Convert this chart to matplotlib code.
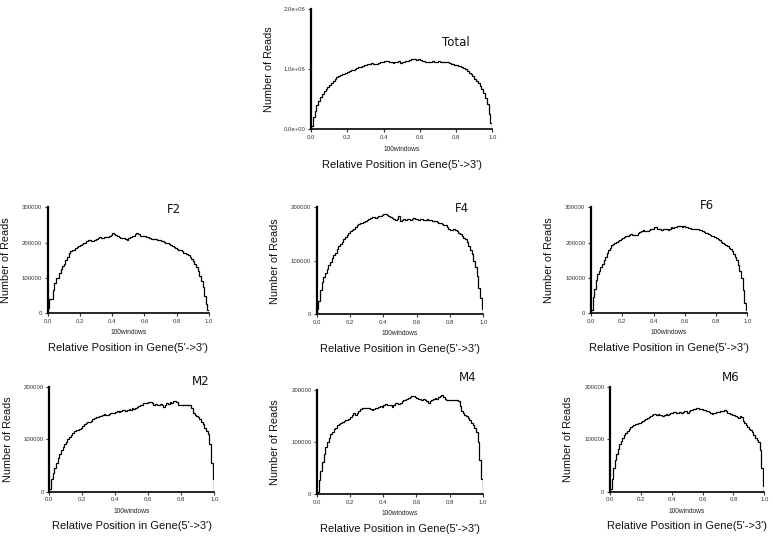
"""Gene body coverage: total and per-sample read distribution over 100 windows."""

import matplotlib

matplotlib.use("Agg")
import matplotlib.pyplot as plt
import numpy as np

# read counts per window (thousands of reads), 100 windows 5' -> 3'
total_k = [
    50, 200, 300, 400, 470, 530, 580, 630, 670, 700,
    730, 760, 800, 830, 860, 880, 900, 910, 920, 930,
    950, 970, 980, 990, 1000, 1020, 1030, 1040, 1050, 1060,
    1070, 1080, 1090, 1100, 1090, 1080, 1090, 1100, 1110, 1120,
    1130, 1140, 1130, 1120, 1120, 1100, 1110, 1120, 1130, 1100,
    1110, 1120, 1130, 1140, 1150, 1160, 1170, 1160, 1150, 1160,
    1150, 1140, 1130, 1120, 1120, 1110, 1120, 1130, 1120, 1120,
    1130, 1120, 1120, 1110, 1120, 1110, 1100, 1090, 1080, 1070,
    1060, 1050, 1050, 1040, 1020, 1000, 970, 940, 910, 880,
    840, 800, 760, 710, 660, 600, 520, 420, 250, 100,
]
f2_k = [
    15, 40, 40, 65, 85, 100, 100, 115, 125, 135,
    140, 150, 160, 170, 175, 178, 180, 185, 188, 190,
    192, 195, 198, 200, 205, 208, 207, 205, 205, 207,
    210, 213, 215, 213, 212, 215, 217, 216, 220, 222,
    226, 224, 222, 218, 215, 214, 212, 213, 210, 207,
    212, 216, 218, 220, 225, 228, 224, 220, 218, 220,
    218, 216, 215, 212, 210, 211, 210, 210, 208, 207,
    206, 205, 203, 200, 198, 196, 192, 190, 188, 184,
    182, 180, 178, 175, 172, 170, 168, 165, 160, 155,
    148, 140, 130, 120, 105, 90, 75, 50, 25, 10,
]
f4_k = [
    10, 25, 45, 60, 70, 78, 85, 92, 98, 105,
    110, 115, 122, 128, 132, 135, 140, 145, 148, 152,
    155, 158, 160, 163, 166, 168, 170, 170, 172, 174,
    176, 178, 180, 182, 181, 180, 182, 184, 183, 185,
    188, 187, 185, 183, 182, 180, 178, 176, 178, 184,
    175, 177, 178, 176, 178, 179, 177, 178, 180, 178,
    178, 177, 179, 178, 177, 177, 178, 177, 176, 175,
    175, 174, 172, 171, 170, 168, 167, 166, 163, 160,
    157, 158, 160, 158, 155, 152, 150, 147, 143, 140,
    135, 128, 120, 112, 100, 88, 72, 50, 30, 10,
]
f6_k = [
    10, 45, 70, 95, 110, 120, 130, 140, 150, 160,
    170, 178, 185, 192, 197, 200, 203, 205, 208, 210,
    213, 215, 218, 220, 222, 224, 222, 222, 221, 223,
    226, 230, 233, 236, 234, 232, 234, 236, 238, 240,
    245, 244, 240, 238, 240, 236, 238, 240, 238, 236,
    240, 243, 242, 244, 245, 247, 248, 246, 244, 246,
    245, 243, 242, 241, 240, 240, 239, 238, 238, 237,
    236, 233, 230, 228, 226, 224, 222, 220, 218, 215,
    212, 210, 207, 203, 200, 197, 194, 190, 186, 182,
    175, 168, 160, 150, 138, 120, 100, 65, 30, 10,
]
m2_k = [
    5, 25, 35, 45, 55, 65, 72, 80, 85, 90,
    95, 100, 104, 108, 112, 115, 117, 118, 120, 122,
    125, 128, 130, 133, 132, 135, 138, 140, 142, 143,
    144, 145, 146, 148, 147, 146, 148, 150, 149, 150,
    152, 153, 152, 154, 155, 155, 154, 156, 158, 155,
    160, 158, 160, 162, 163, 165, 166, 168, 168, 169,
    170, 171, 168, 166, 167, 166, 165, 167, 165, 162,
    166, 168, 167, 170, 168, 172, 173, 170, 166, 165,
    166, 165, 166, 166, 166, 166, 160, 150, 147, 145,
    142, 138, 133, 128, 122, 116, 110, 90, 55, 25,
]
m4_k = [
    5, 28, 45, 62, 78, 90, 100, 108, 115, 120,
    125, 128, 132, 135, 137, 138, 140, 142, 143, 145,
    148, 152, 155, 153, 155, 160, 163, 165, 165, 166,
    165, 166, 164, 162, 164, 166, 166, 168, 170, 168,
    172, 173, 172, 171, 172, 168, 172, 175, 176, 174,
    176, 178, 180, 181, 183, 185, 186, 188, 189, 187,
    184, 183, 182, 180, 182, 180, 178, 176, 178, 180,
    182, 184, 183, 186, 188, 190, 186, 182, 180, 180,
    180, 181, 180, 180, 181, 178, 170, 160, 155, 152,
    150, 146, 142, 136, 132, 128, 120, 100, 65, 30,
]
m6_k = [
    5, 25, 45, 60, 72, 82, 90, 97, 103, 108,
    112, 116, 120, 124, 126, 127, 128, 129, 130, 131,
    133, 135, 137, 138, 140, 143, 145, 147, 148, 148,
    147, 148, 147, 146, 145, 147, 148, 147, 148, 149,
    150, 152, 151, 150, 149, 151, 150, 152, 153, 154,
    150, 154, 155, 156, 157, 158, 160, 159, 158, 157,
    156, 155, 154, 153, 152, 150, 148, 149, 150, 152,
    151, 153, 154, 153, 155, 154, 150, 149, 148, 147,
    146, 145, 143, 141, 145, 143, 135, 130, 127, 124,
    120, 117, 113, 108, 103, 98, 95, 80, 45, 10,
]

panel_names = ["Total", "F2", "F4", "F6", "M2", "M4", "M6"]
panel_series = [total_k, f2_k, f4_k, f6_k, m2_k, m4_k, m6_k]
panel_ymax = [2.0e6, 3.0e5, 2.0e5, 3.0e5, 2.0e5, 2.0e5, 2.0e5]
panel_ystep = [1.0e6, 1.0e5, 1.0e5, 1.0e5, 1.0e5, 1.0e5, 1.0e5]
x_ticks = [0.0, 0.2, 0.4, 0.6, 0.8, 1.0]

W, H = 773, 536
# axes boxes in pixels: left, right, top, bottom
BOXES = {
    "Total": (311, 492.3, 9, 129),
    "F2": (47.7, 209, 207.3, 313.3),
    "F4": (316.7, 483.3, 207.3, 314.3),
    "F6": (591, 747.3, 207.3, 313.3),
    "M2": (49.3, 214.3, 386.7, 491.7),
    "M4": (317, 482.7, 390, 494.3),
    "M6": (610, 764.3, 386.7, 491.7),
}
# panel name position, axes fraction
NAME_POS = {
    "Total": (0.80, 0.72),
    "F2": (0.78, 0.975),
    "F4": (0.87, 0.99),
    "F6": (0.74, 1.02),
    "M2": (0.92, 1.05),
    "M4": (0.907, 1.12),
    "M6": (0.78, 1.086),
}

plt.rcParams.update({"font.family": ["Liberation Sans", "DejaVu Sans"]})

fig = plt.figure(figsize=(W / 100, H / 100), dpi=100)

for name, values, ymax, ystep in zip(panel_names, panel_series, panel_ymax, panel_ystep):
    left, right, top, bottom = BOXES[name]
    ax = fig.add_axes([left / W, 1 - bottom / H, (right - left) / W, (bottom - top) / H])
    counts = np.asarray(values, dtype=float) * 1e3
    edges = np.linspace(0, 1, len(counts) + 1)
    ax.stairs(counts, edges, color="black", linewidth=0.9, baseline=0)

    ax.set_xlim(0, 1)
    ax.set_ylim(0, ymax)
    ax.set_xticks(x_ticks)
    ax.set_xticklabels([f"{t:.1f}" for t in x_ticks])
    yt = np.arange(0, ymax + ystep / 2, ystep)
    ax.set_yticks(yt)
    if name == "Total":
        ax.set_yticklabels([f"{v:.1e}" for v in yt])
    else:
        ax.set_yticklabels([f"{int(v)}" for v in yt])

    for side in ("top", "right"):
        ax.spines[side].set_visible(False)
    ax.spines["left"].set_linewidth(1.6)
    ax.spines["bottom"].set_linewidth(1.2)
    ax.tick_params(axis="both", direction="out", length=2, width=0.8,
                   labelsize=4.3, pad=2, colors="#333333")

    dy1, dy2 = (15, 26) if name == "Total" else (14, 25)
    ax.annotate("100windows", xy=(0.5, 0), xycoords="axes fraction",
                xytext=(0, -dy1), textcoords="offset points",
                ha="center", va="center", fontsize=4.8, color="#222222")
    ax.annotate("Relative Position in Gene(5'->3')", xy=(0.5, 0),
                xycoords="axes fraction", xytext=(0, -dy2),
                textcoords="offset points", ha="center", va="center",
                fontsize=8, color="#111111")
    ax.annotate("Number of Reads", xy=(0, 0.5), xycoords="axes fraction",
                xytext=(-30, 0), textcoords="offset points", rotation=90,
                ha="center", va="center", fontsize=7.8, color="#111111")

    nx, ny = NAME_POS[name]
    ax.text(nx, ny, name, transform=ax.transAxes, ha="center", va="center",
            fontsize=8.5, family="DejaVu Sans", color="#111111")

fig.savefig("out.png", dpi=100, facecolor="white")
